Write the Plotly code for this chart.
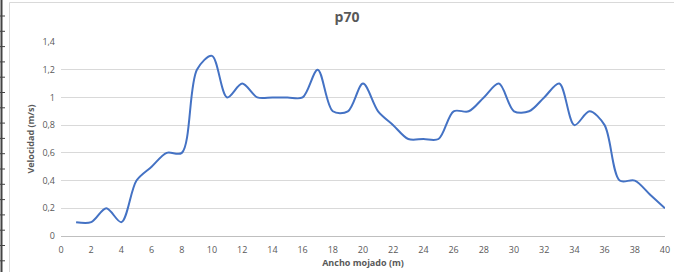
import plotly.graph_objects as go

x_vals = list(range(1, 41))
velocidad = [0.1, 0.1, 0.2, 0.1, 0.4, 0.5, 0.6, 0.6, 1.2, 1.3,
             1.0, 1.1, 1.0, 1.0, 1.0, 1.0, 1.2, 0.9, 0.9, 1.1,
             0.9, 0.8, 0.7, 0.7, 0.7, 0.9, 0.9, 1.0, 1.1, 0.9,
             0.9, 1.0, 1.1, 0.8, 0.9, 0.8, 0.4, 0.4, 0.3, 0.2]
x_ticks = list(range(0, 41, 2))
y_ticks = [0, 0.2, 0.4, 0.6, 0.8, 1.0, 1.2, 1.4]
y_ticktext = ["0", "0,2", "0,4", "0,6", "0,8", "1", "1,2", "1,4"]

fig = go.Figure()
fig.add_trace(go.Scatter(
    x=x_vals, y=velocidad, mode="lines",
    line=dict(color="#4472C4", width=2, shape="spline", smoothing=0.9),
    showlegend=False, hoverinfo="x+y",
))

W, H = 674, 272
L, R, T, B = 61, 9, 42, 36
pw, ph = W - L - R, H - T - B

def px(xp):
    return (xp - L) / pw

def py(yp):
    return (H - B - yp) / ph

shapes = [
    dict(type="line", xref="paper", yref="paper", x0=px(9.5), x1=px(9.5), y0=py(2.5), y1=py(272),
         line=dict(color="#d9d9d9", width=1)),
    dict(type="line", xref="paper", yref="paper", x0=px(9.5), x1=px(674), y0=py(2.5), y1=py(2.5),
         line=dict(color="#d9d9d9", width=1)),
    dict(type="line", xref="paper", yref="paper", x0=px(1.5), x1=px(1.5), y0=py(0), y1=py(272),
         line=dict(color="#444444", width=2)),
]
for k in range(0, 19):
    yy = 16 + k * 15.3
    shapes.append(dict(type="line", xref="paper", yref="paper", x0=px(0), x1=px(5),
                       y0=py(yy), y1=py(yy), line=dict(color="#444444", width=1)))

fig.update_layout(
    width=W, height=H,
    margin=dict(l=L, r=R, t=T, b=B, autoexpand=False),
    paper_bgcolor="white", plot_bgcolor="white",
    separators=",.",
    font=dict(family="Open Sans, Liberation Sans, sans-serif", color="#595959", size=9),
    title=dict(text="<b>p70</b>", x=347 / W, xref="container", xanchor="center",
               y=1 - 17 / H, yref="container", yanchor="middle",
               font=dict(size=14, color="#595959")),
    xaxis=dict(range=[0, 40], tickvals=x_ticks, showgrid=False, zeroline=False, automargin=False,
               showline=False, ticks="", ticklabelstandoff=7, tickfont=dict(size=9, color="#595959"),
               title=dict(text="<b>Ancho mojado (m)</b>", font=dict(size=9, color="#595959"), standoff=4)),
    yaxis=dict(range=[0, 1.4], tickvals=y_ticks, ticktext=y_ticktext, automargin=False,
               showgrid=True, gridcolor="#d9d9d9", gridwidth=1, zeroline=True, zerolinecolor="#bfbfbf",
               zerolinewidth=1, showline=False, ticks="", ticklabelstandoff=5,
               tickfont=dict(size=9, color="#595959"),
               title=dict(text="<b>Velocidad (m/s)</b>", font=dict(size=9, color="#595959"), standoff=6)),
    shapes=shapes,
)

fig.write_html("out.html", config={"displayModeBar": False},
               post_script="document.body.style.margin='0';document.body.style.overflow='hidden';")
